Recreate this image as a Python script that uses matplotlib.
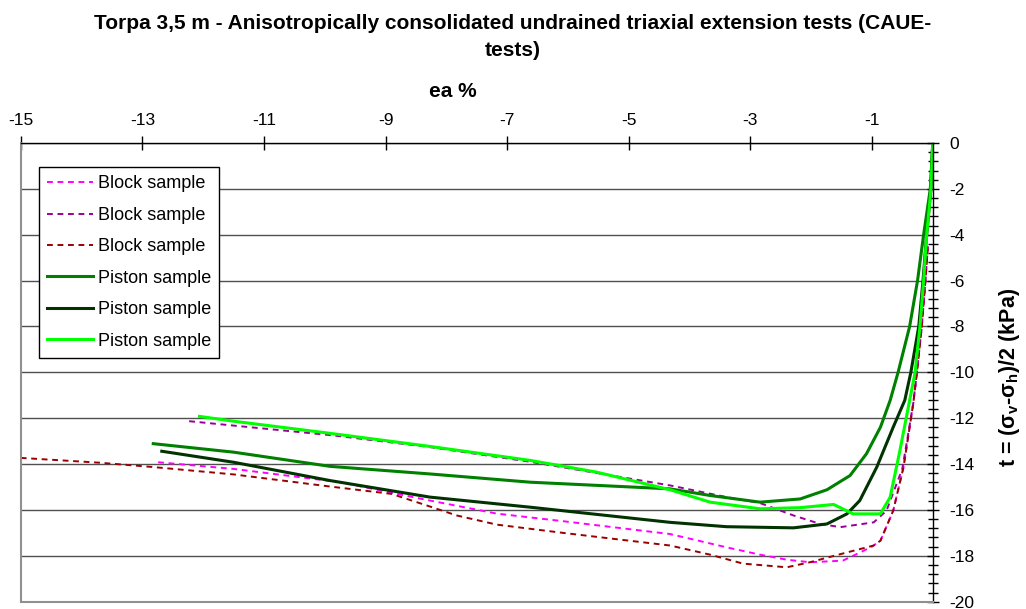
import matplotlib
matplotlib.use('Agg')
import matplotlib.pyplot as plt
from matplotlib.ticker import MultipleLocator

plt.rcParams['font.family'] = ['Liberation Sans', 'DejaVu Sans']
plt.rcParams['mathtext.fontset'] = 'custom'
plt.rcParams['mathtext.rm'] = 'Liberation Sans'
plt.rcParams['mathtext.bf'] = 'Liberation Sans:bold'
plt.rcParams['axes.unicode_minus'] = False

# Block samples (axial strain %, shear stress kPa)
block1_x = [-12.74, -11.5, -9.75, -8.27, -7.17, -6.08, -4.32, -3.39, -2.84, -2.40, -2.02,
            -1.48, -1.31, -1.0, -0.86, -0.65, -0.48, -0.32, -0.26, -0.18, -0.12, -0.08]
block1_y = [-13.92, -14.21, -14.79, -15.59, -16.16, -16.49, -17.05, -17.63, -17.95, -18.17, -18.28,
            -18.21, -18.0, -17.6, -17.34, -16.03, -14.13, -11.35, -10.0, -8.0, -6.0, -4.5]

block2_x = [-12.23, -9.86, -8.27, -6.62, -4.32, -3.39, -2.84, -2.29, -1.85, -1.52, -0.97,
            -0.76, -0.5, -0.32, -0.26, -0.18, -0.12, -0.08]
block2_y = [-12.13, -12.75, -13.26, -13.9, -14.93, -15.44, -15.7, -16.24, -16.61, -16.75, -16.54,
            -16.03, -14.2, -11.35, -10.0, -8.0, -6.0, -4.5]

block3_x = [-15.0, -13.70, -12.82, -11.5, -9.91, -8.9, -8.27, -7.83, -7.17, -6.08, -4.32, -3.66,
            -3.12, -2.40, -2.02, -1.48, -0.97, -0.86, -0.65, -0.48, -0.32, -0.26, -0.18, -0.12, -0.08]
block3_y = [-13.73, -13.94, -14.13, -14.45, -14.98, -15.3, -15.85, -16.24, -16.64, -17.0, -17.55, -17.95,
            -18.34, -18.5, -18.28, -17.9, -17.55, -17.34, -16.03, -14.13, -11.35, -10.0, -8.0, -6.0, -4.5]

# Piston samples
piston1_x = [-12.82, -11.5, -9.91, -8.27, -6.62, -4.32, -3.66, -2.84, -2.18, -1.74, -1.36,
             -1.09, -0.86, -0.70, -0.57, -0.38, -0.25, -0.15, -0.04, 0.0]
piston1_y = [-13.11, -13.48, -14.1, -14.43, -14.79, -15.08, -15.37, -15.66, -15.52, -15.12, -14.5,
             -13.55, -12.39, -11.22, -10.0, -8.0, -6.0, -4.0, -2.0, 0.0]

piston2_x = [-12.68, -11.5, -9.91, -8.27, -6.62, -4.32, -3.39, -2.29, -1.74, -1.41, -1.20,
             -0.92, -0.65, -0.46, -0.36, -0.23, -0.16, -0.10, -0.03, 0.0]
piston2_y = [-13.44, -13.92, -14.72, -15.44, -15.88, -16.54, -16.73, -16.78, -16.61, -16.17, -15.59,
             -14.13, -12.39, -11.22, -10.0, -8.0, -6.0, -4.0, -2.0, 0.0]

piston3_x = [-12.06, -11.5, -9.91, -8.27, -6.62, -5.53, -4.32, -3.66, -2.84, -2.18, -1.63, -1.31,
             -0.86, -0.70, -0.54, -0.38, -0.29, -0.21, -0.15, -0.10, -0.03, 0.0]
piston3_y = [-11.92, -12.13, -12.66, -13.23, -13.84, -14.35, -15.12, -15.66, -15.95, -15.9, -15.76, -16.17,
             -16.17, -15.44, -13.41, -11.22, -10.0, -8.0, -6.0, -4.0, -2.0, 0.0]

fig = plt.figure(figsize=(10.26, 6.09), dpi=100)
ax = fig.add_axes([0.0202, 0.012, 0.8889, 0.7532])

dash = (3.0, 2.4)
ax.plot(block1_x, block1_y, color='#FF00FF', lw=1.4, dashes=dash, label='Block sample')
ax.plot(block2_x, block2_y, color='#990099', lw=1.4, dashes=dash, label='Block sample')
ax.plot(block3_x, block3_y, color='#990000', lw=1.4, dashes=dash, label='Block sample')
ax.plot(piston1_x, piston1_y, color='#008000', lw=2.2, label='Piston sample')
ax.plot(piston2_x, piston2_y, color='#003300', lw=2.2, label='Piston sample')
ax.plot(piston3_x, piston3_y, color='#00FF00', lw=2.2, label='Piston sample')

ax.set_xlim(-15, 0)
ax.set_ylim(-20, 0)
ax.xaxis.tick_top()
ax.yaxis.tick_right()
ax.set_xticks(range(-15, 0, 2))
ax.yaxis.set_major_locator(MultipleLocator(2))
ax.yaxis.set_minor_locator(MultipleLocator(0.4))
ax.tick_params(axis='x', direction='inout', length=10, width=1, labelsize=12.5, pad=6)
ax.tick_params(axis='y', which='major', direction='inout', length=9, width=1, labelsize=12.5, pad=7.5)
ax.tick_params(axis='y', which='minor', direction='inout', length=7, width=1)

ax.grid(axis='y', which='major', color='#505050', lw=1)
ax.set_axisbelow(True)
for s in ['top', 'right']:
    ax.spines[s].set_color('black')
    ax.spines[s].set_linewidth(1)
for s in ['left', 'bottom']:
    ax.spines[s].set_color('#909090')
    ax.spines[s].set_linewidth(1.5)

leg = ax.legend(loc='upper left', bbox_to_anchor=(0.0204, 0.947), borderaxespad=0,
                fontsize=13, frameon=True, fancybox=False, framealpha=1, edgecolor='black',
                labelspacing=0.8, handlelength=2.5, handletextpad=0.3, borderpad=0.45)
leg.get_frame().set_linewidth(1)

fig.text(0.5, 0.961, 'Torpa 3,5 m - Anisotropically consolidated undrained triaxial extension tests (CAUE-',
         ha='center', va='center', fontsize=15, fontweight='bold')
fig.text(0.5, 0.917, 'tests)', ha='center', va='center', fontsize=15, fontweight='bold')
fig.text(0.4415, 0.849, 'ea %', ha='center', va='center', fontsize=15, fontweight='bold')
fig.text(0.984, 0.381, r't = (σ$_\mathbf{v}$-σ$_\mathbf{h}$)/2 (kPa)', rotation=90,
         ha='center', va='center', fontsize=15.5, fontweight='bold')

fig.savefig('out.png', dpi=100)
